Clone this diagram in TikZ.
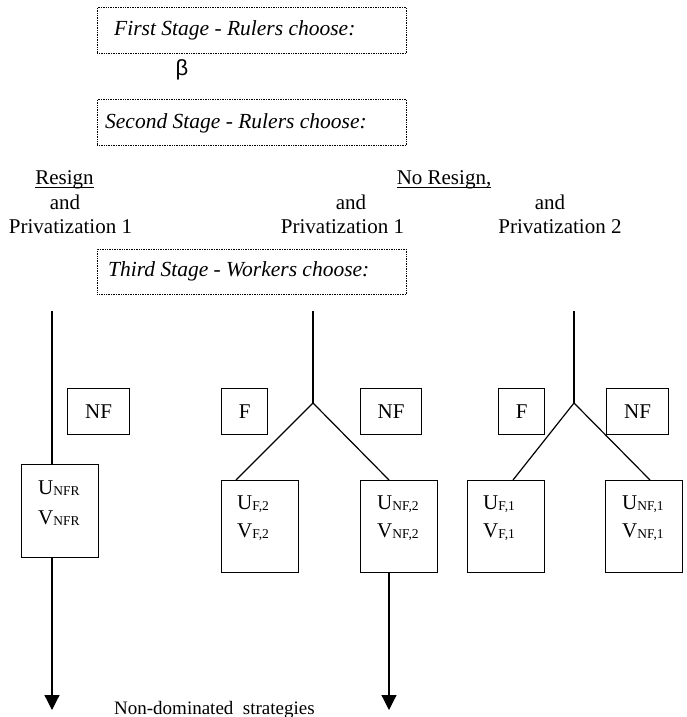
\documentclass[tikz,border=0pt]{standalone}
\usepackage{fontspec}
\setmainfont{Liberation Serif}
\newfontfamily\greekfont{Liberation Sans}
\usetikzlibrary{arrows.meta,calc}
\newcommand{\sbx}[1]{\raisebox{-1.5pt}{\fontsize{13.5}{13.5}\selectfont #1}}
\newcommand{\thickul}[1]{\setbox0\hbox{#1}\rlap{\rule[-4pt]{\wd0}{1.4pt}}\box0}
\begin{document}
\begin{tikzpicture}[x=1pt,y=-1pt,
  stagebox/.style={draw, densely dotted, line width=0.7pt, anchor=north west, inner sep=0pt, minimum width=309pt},
  stagetxt/.style={anchor=base west, inner sep=0pt, font=\fontsize{21.5}{24}\selectfont\itshape},
  lbl/.style={anchor=base, inner sep=0pt, font=\fontsize{21}{24}\selectfont},
  choicebox/.style={draw, line width=1.2pt, anchor=north west, inner sep=0pt, minimum height=46pt, font=\fontsize{21}{24}\selectfont},
  valbox/.style={draw, line width=1.2pt, anchor=north west, inner sep=0pt, minimum width=77pt},
  valtxt/.style={anchor=base west, inner sep=0pt, font=\fontsize{21}{24}\selectfont},
  edge/.style={line width=1.2pt},
  arr/.style={line width=1.2pt, -{Triangle[width=15pt,length=15pt]}}
]
\useasboundingbox (0,0) rectangle (686,717);

% stage boxes
\node[stagebox, minimum height=46pt] (st1) at (97,7) {};
\node[stagetxt] (st1t) at ($(st1.north west)+(17,29)$) {First Stage - Rulers choose:};
\node[anchor=center, inner sep=0pt, font=\greekfont\fontsize{22}{24}\selectfont] (beta) at (182,70) {β};
\node[stagebox, minimum height=46pt] (st2) at (97,99) {};
\node[stagetxt] (st2t) at ($(st2.north west)+(8,29)$) {Second Stage - Rulers choose:};
\node[stagebox, minimum height=45pt] (st3) at (97,249) {};
\node[stagetxt] (st3t) at ($(st3.north west)+(11,27)$) {Third Stage - Workers choose:};

% column labels
\node[lbl] (res) at (64.5,184) {\thickul{Resign}};
\node[lbl] (and1) at (65,209) {and};
\node[lbl] (pr1) at (70.5,233) {Privatization 1};
\node[lbl] (nores) at (444,184) {\thickul{No Resign,}};
\node[lbl] (and2) at (351,209) {and};
\node[lbl] (pr2) at (342.5,233) {Privatization 1};
\node[lbl] (and3) at (550,209) {and};
\node[lbl] (pr3) at (560,233) {Privatization 2};

% choice boxes
\node[choicebox, minimum width=62pt] (nf1) at (67,388) {NF};
\node[choicebox, minimum width=46pt] (f2) at (221,388) {F};
\node[choicebox, minimum width=61pt] (nf2) at (360,388) {NF};
\node[choicebox, minimum width=46pt] (f3) at (498,388) {F};
\node[choicebox, minimum width=62pt] (nf3) at (606,388) {NF};

% value boxes
\node[valbox, minimum height=93pt] (unfr) at (21,464) {};
\node[valtxt] (unfru) at ($(unfr.north west)+(17,30)$) {U\sbx{NFR}};
\node[valtxt] (unfrv) at ($(unfr.north west)+(17,60)$) {V\sbx{NFR}};

\node[valbox, minimum height=92pt] (uf2) at (221,480) {};
\node[valtxt] (uf2u) at ($(uf2.north west)+(16,29)$) {U\sbx{F,2}};
\node[valtxt] (uf2v) at ($(uf2.north west)+(16,57)$) {V\sbx{F,2}};

\node[valbox, minimum height=92pt] (unf2) at (360,480) {};
\node[valtxt] (unf2u) at ($(unf2.north west)+(17,29)$) {U\sbx{NF,2}};
\node[valtxt] (unf2v) at ($(unf2.north west)+(17,57)$) {V\sbx{NF,2}};

\node[valbox, minimum height=92pt] (uf1) at (467,480) {};
\node[valtxt] (uf1u) at ($(uf1.north west)+(16,29)$) {U\sbx{F,1}};
\node[valtxt] (uf1v) at ($(uf1.north west)+(16,57)$) {V\sbx{F,1}};

\node[valbox, minimum height=92pt] (unf1) at (605,480) {};
\node[valtxt] (unf1u) at ($(unf1.north west)+(17,29)$) {U\sbx{NF,1}};
\node[valtxt] (unf1v) at ($(unf1.north west)+(17,57)$) {V\sbx{NF,1}};

% connectors
\coordinate (t1) at (52,311);
\coordinate (end1) at (52,710);
\draw[edge] (t1) -- (t1 |- unfr.north);
\draw[arr] (end1 |- unfr.south) -- (end1);

\coordinate (t2) at (313,311);
\coordinate (b2) at (313,403);
\coordinate (end2) at (389,710);
\draw[edge] (t2) -- (b2);
\draw[edge] (b2) -- ($(uf2.north west)+(15,0)$);
\draw[edge] (b2) -- ($(unf2.north west)+(29,0)$);
\draw[arr] (end2 |- unf2.south) -- (end2);

\coordinate (t3) at (574,311);
\coordinate (b3) at (574,403);
\draw[edge] (t3) -- (b3);
\draw[edge] (b3) -- ($(uf1.north west)+(46,0)$);
\draw[edge] (b3) -- ($(unf1.north west)+(45,0)$);

\node[anchor=base west, inner sep=0pt, font=\fontsize{19}{22}\selectfont] (nds) at (114,714) {Non-dominated\ \ strategies};
\end{tikzpicture}
\end{document}
